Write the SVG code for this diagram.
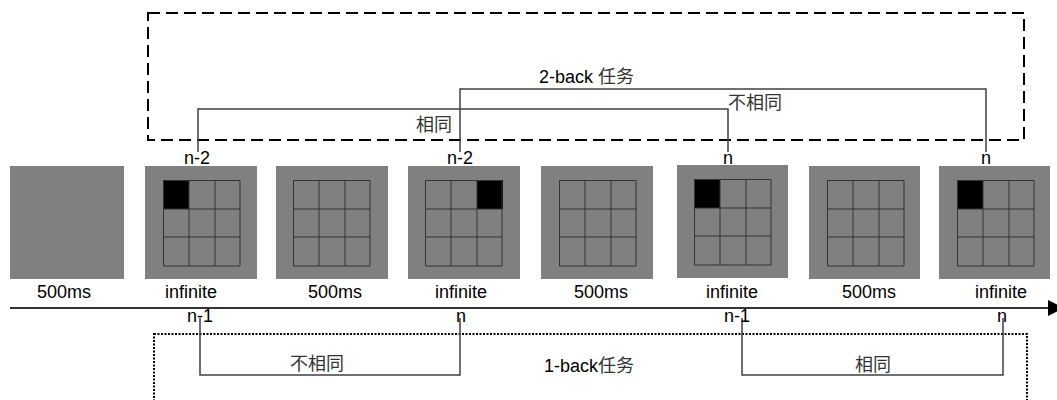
<svg xmlns="http://www.w3.org/2000/svg" xmlns:xlink="http://www.w3.org/1999/xlink" width="1057" height="400" viewBox="0 0 1057 400">
<style>
.bg{fill:#808080}
.gl{stroke:#333;stroke-width:1;fill:none}
.blk{fill:#000}
.t{font-family:"Liberation Sans","Noto Sans CJK SC",sans-serif;font-size:18px;fill:#000;text-anchor:middle}
.cj{font-family:"Liberation Sans","Noto Sans CJK SC",sans-serif;font-size:18px;fill:#333}
.lt{fill:#000}
.conn{stroke:#404040;stroke-width:1.5;fill:none}
</style>
<defs>
<g id="grid">
<path class="gl" d="M0.5,0.5H77M0.5,29H77M0.5,57H77M0.5,86H77M0.5,0.5V86M26,0.5V86M52,0.5V86M77,0.5V86"/>
</g>
</defs>
<rect x="148" y="13" width="876" height="127" fill="none" stroke="#000" stroke-width="2" stroke-dasharray="12 6"/>
<rect x="154" y="334" width="873" height="90" fill="none" stroke="#000" stroke-width="2" stroke-dasharray="2 1.5"/>
<g id="connectors">
<path class="conn" d="M198,152V109H728V152"/>
<path class="conn" d="M460,152V89H986V152"/>
<path class="conn" d="M200,318V375H460V318"/>
<path class="conn" d="M742,318V375H1003V318"/>
<line x1="10" y1="308" x2="1050" y2="308" stroke="#333" stroke-width="2"/>
<polygon points="1048,300 1064,308 1048,316" fill="#000"/>
</g>
<g id="box1"><rect class="bg" x="10" y="166" width="114" height="113"/><text class="t" x="64" y="298">500ms</text></g>
<g id="box2"><rect class="bg" x="145" y="166" width="112" height="113"/><rect class="blk" x="163" y="180" width="26" height="29"/><use xlink:href="#grid" x="163" y="180"/><text class="t" x="191" y="298">infinite</text><text class="t" x="197" y="164">n-2</text><text class="t" x="200" y="322">n-1</text></g>
<g id="box3"><rect class="bg" x="276" y="166" width="112" height="113"/><use xlink:href="#grid" x="293" y="180"/><text class="t" x="335" y="298">500ms</text></g>
<g id="box4"><rect class="bg" x="408" y="166" width="112" height="113"/><rect class="blk" x="477" y="180" width="26" height="29"/><use xlink:href="#grid" x="425" y="180"/><text class="t" x="461" y="298">infinite</text><text class="t" x="460" y="164">n-2</text><text class="t" x="461" y="322">n</text></g>
<g id="box5"><rect class="bg" x="541" y="166" width="112" height="113"/><use xlink:href="#grid" x="559" y="180"/><text class="t" x="601" y="298">500ms</text></g>
<g id="box6"><rect class="bg" x="677" y="165" width="111" height="113"/><rect class="blk" x="694" y="179" width="26" height="29"/><use xlink:href="#grid" x="694" y="179"/><text class="t" x="732" y="298">infinite</text><text class="t" x="728" y="164">n</text><text class="t" x="737" y="322">n-1</text></g>
<g id="box7"><rect class="bg" x="809" y="166" width="111" height="113"/><use xlink:href="#grid" x="827" y="180"/><text class="t" x="869" y="298">500ms</text></g>
<g id="box8"><rect class="bg" x="939" y="166" width="111" height="113"/><rect class="blk" x="957" y="180" width="26" height="29"/><use xlink:href="#grid" x="957" y="180"/><text class="t" x="1001" y="298">infinite</text><text class="t" x="986" y="164">n</text><text class="t" x="1002" y="322">n</text></g>
<g id="labels">
<text class="cj" x="539" y="83"><tspan class="lt">2-back </tspan>任务</text>
<text class="cj" x="728" y="109">不相同</text>
<text class="cj" x="416" y="131">相同</text>
<text class="cj" x="290" y="370">不相同</text>
<text class="cj" x="855" y="371">相同</text>
<text class="cj" x="544" y="372"><tspan class="lt">1-back</tspan>任务</text>
</g>
</svg>
